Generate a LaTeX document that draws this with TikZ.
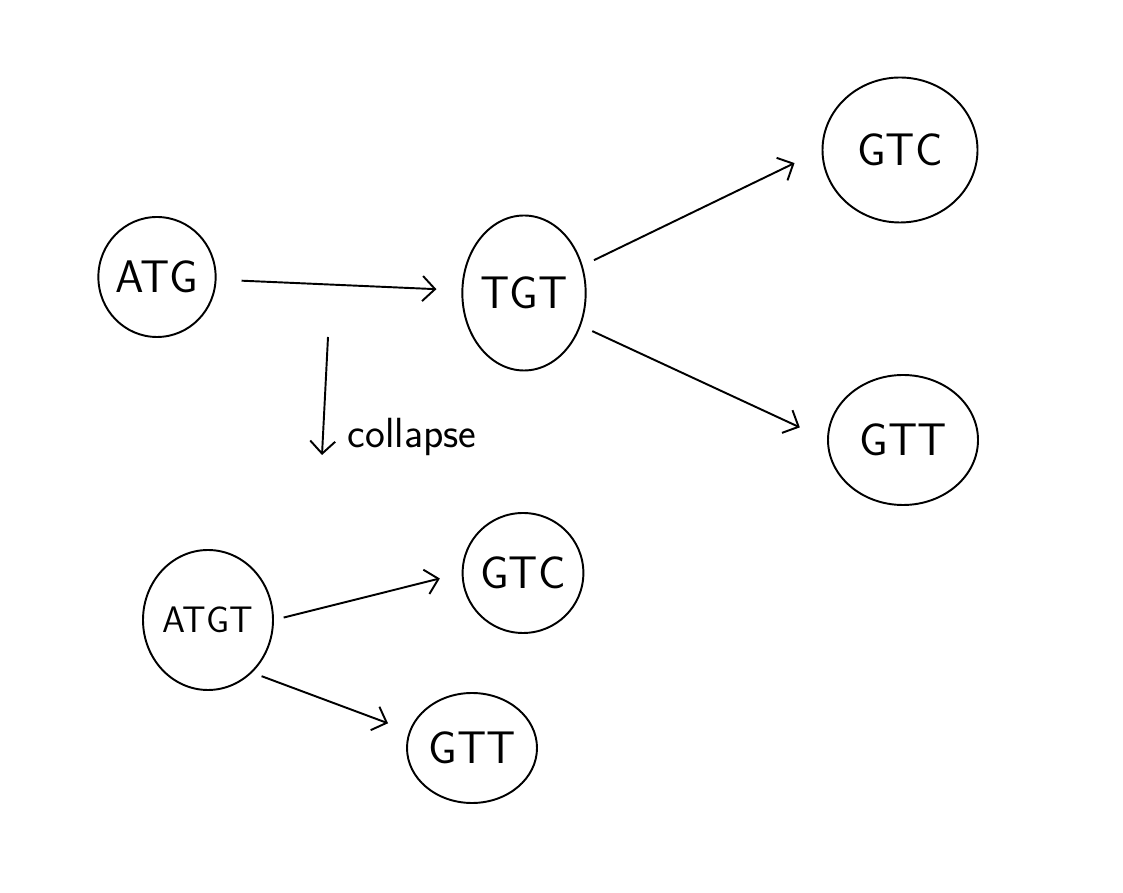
\documentclass[tikz,border=0pt]{standalone}
\usepackage{color}
\usetikzlibrary{arrows.meta}
\usetikzlibrary{shapes.geometric}

\begin{document}
\begin{tikzpicture}
				[inner sep=0mm,
					kmer/.style={ellipse,draw=black,line width=1.1pt,font=\sffamily\fontsize{26}{30}\selectfont},
					connect/.style={-{Straight Barb[length=2.5mm,width=5mm]},line width=1.1pt,shorten <=0.5cm,shorten >=0.5cm}]
				\useasboundingbox (0,0) rectangle (22.46,17.84);
				% de Bruijn graph
				\node[kmer,minimum width=2.3cm,minimum height=2.4cm] (atg) at (3.14,12.30) {ATG};
				\node[kmer,minimum width=2.4cm,minimum height=3.1cm] (tgt) at (10.48,11.98) {TGT};
				\node[kmer,minimum width=3.1cm,minimum height=2.9cm] (gtc) at (18.0,14.84) {GTC};
				\node[kmer,minimum width=3.0cm,minimum height=2.6cm] (gtt) at (18.06,9.04) {GTT};
				\draw[connect] (atg) -- (tgt);
				\draw[connect,shorten <=0.25cm,shorten >=0.6cm] (tgt.25) -- (gtc.west);
				\draw[connect,shorten <=0.25cm,shorten >=0.6cm] (tgt.-30) -- (gtt.west);
				% collapse step
				\coordinate (c1) at (6.56,11.1);
				\coordinate (c2) at (6.44,8.74);
				\draw[-{Straight Barb[length=2.5mm,width=5mm]},line width=1.1pt] (c1) -- (c2);
				\node[anchor=west,font=\sffamily\fontsize{24}{28}\selectfont] (lbl) at (6.95,9.1) {collapse};
				% collapsed graph
				\node[kmer,minimum width=2.6cm,minimum height=2.8cm,font=\sffamily\fontsize{21}{26}\selectfont] (atgt) at (4.16,5.44) {ATGT};
				\node[kmer,minimum width=2.4cm,minimum height=2.4cm] (gtc2) at (10.46,6.38) {GTC};
				\node[kmer,minimum width=2.6cm,minimum height=2.2cm] (gtt2) at (9.44,2.88) {GTT};
				\draw[connect,shorten <=0.2cm,shorten >=0.45cm] (atgt.east) -- (gtc2.west);
				\draw[connect,shorten <=0.2cm,shorten >=0.45cm] (atgt.-50) -- (gtt2.165);
			\end{tikzpicture}
\end{document}
